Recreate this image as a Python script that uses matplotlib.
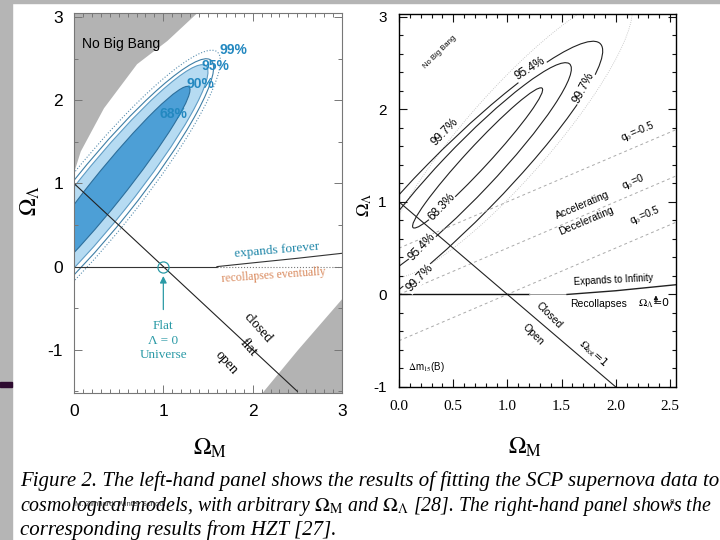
import matplotlib
matplotlib.use("Agg")
import matplotlib.pyplot as plt
from matplotlib.patches import Ellipse, Rectangle
from matplotlib.ticker import MultipleLocator, FormatStrFormatter

plt.rcParams['axes.unicode_minus'] = False
plt.rcParams['mathtext.fontset'] = 'stix'

######################################################################
# Datos
######################################################################
# panel izquierdo (SCP)
nbb_x = [0.0, 0.07, 0.33, 0.70, 1.04, 1.37]          # borde "No Big Bang"
nbb_y = [1.15, 1.39, 1.91, 2.44, 2.72, 3.05]
rc_x  = [2.10, 2.50, 3.00]                            # zona gris abajo a la derecha
rc_y  = [-1.52, -1.00, -0.38]
exp_x = [1.6, 2.0, 2.5, 3.0]                          # expande / recolapsa
exp_y = [0.0, 0.045, 0.10, 0.16]
flatL_x = [0.0, 2.5]
flatL_y = [1.0, -1.5]

L_lab = ['68%', '90%', '95%', '99%']
L_cx  = [0.36, 0.32, 0.31, 0.29]
L_cy  = [0.92, 0.87, 0.85, 0.83]
L_a   = [1.55, 1.93, 2.04, 2.19]
L_b   = [0.19, 0.31, 0.36, 0.41]
L_ang = 53.3
L_tx  = [1.11, 1.41, 1.58, 1.78]
L_ty  = [1.83, 2.20, 2.41, 2.60]

# panel derecho (HZT)
R_lab = ['68.3%', '95.4%', '99.7%']
R_cx  = [0.725, 0.62, 0.55]
R_cy  = [1.475, 1.32, 1.17]
R_a   = [0.96, 1.51, 2.02]
R_b   = [0.11, 0.25, 0.37]
R_ang = [51.8, 51.0, 50.0]
dot_e = (1.0, 1.7, 1.86, 0.42, 53.7)                  # contorno punteado exterior

q0_lab = ['-0.5', '0', '0.5']
q0_x   = [0.0, 2.555]
q0_y0  = [0.5, 0.0, -0.5]
q0_y1  = [1.78, 1.28, 0.78]
flatR_x = [0.0, 2.0]
flatR_y = [1.0, -1.0]
expR_x = [1.55, 2.0, 2.555]
expR_y = [0.0, 0.04, 0.105]

caption = ["Figure 2. The left-hand panel shows the results of fitting the SCP supernova data to",
           r"cosmological models, with arbitrary $\Omega_{\rm M}$ and $\Omega_{\Lambda}$ [28]. The right-hand panel shows the",
           "corresponding results from HZT [27]."]
cap_y  = [481, 506, 530]
cap_fs = [15, 14.3, 15]

######################################################################
fig = plt.figure(figsize=(7.2, 5.4), dpi=100)

# decoracion de la diapositiva
fig.patches.append(Rectangle((0, 0), 12/720, 1, transform=fig.transFigure, color='#b5b5b5', zorder=0))
fig.patches.append(Rectangle((0, 1-3/540), 1, 3/540, transform=fig.transFigure, color='#b5b5b5', zorder=0))
fig.patches.append(Rectangle((0, 1-387/540), 12/720, 5/540, transform=fig.transFigure, color='#2e0b30', zorder=1))

sans  = 'Liberation Sans'
serif = 'Liberation Serif'

#################
# Panel izquierdo
#################
ax = fig.add_axes([74/720, 1-393/540, 268/720, 380/540])
ax.set_xlim(0, 3)
ax.set_ylim(-1.52, 3.05)

ax.fill_between(nbb_x, nbb_y, 3.05, color='#b3b3b3', lw=0)
ax.fill_between(rc_x, -1.52, rc_y, color='#b3b3b3', lw=0)

fills = ['#4d9fd6', '#b6dbf2', 'none', 'none']
edges = ['#2d6f9c', '#5f9cc4', '#3f7fa6', '#5a8fb0']
styles = ['-', '-', '-', ':']
for i in [1, 0, 2, 3]:
    ax.add_patch(Ellipse((L_cx[i], L_cy[i]), 2*L_a[i], 2*L_b[i], angle=L_ang,
                         facecolor=fills[i], edgecolor=edges[i], lw=0.8, ls=styles[i]))
for i in range(4):
    ax.text(L_tx[i], L_ty[i], L_lab[i], color='#2388c0', fontsize=10, fontweight='bold',
            family=sans, ha='center', va='center')

ax.plot(flatL_x, flatL_y, color='#222222', lw=0.8)
ax.plot([0, 1.6], [0, 0], color='#333333', lw=0.8)
ax.plot([1.6, 3.0], [0, 0], color='#777777', lw=0.8, ls=':')
ax.plot(exp_x, exp_y, color='#333333', lw=0.8)
ax.plot([1.0], [0.0], marker='o', ms=8, mfc='none', mec='#2b9aa6', mew=0.9)
ax.annotate('', xy=(1.0, -0.08), xytext=(1.0, -0.55),
            arrowprops=dict(arrowstyle='-|>', color='#2b9aa6', lw=0.9, mutation_scale=10))

ax.text(0.09, 2.68, 'No Big Bang', family=sans, fontsize=10, ha='left', va='center')
ax.text(2.27, 0.20, 'expands forever', family=serif, fontsize=9.5, color='#1f86a8',
        rotation=5, ha='center', va='center')
ax.text(2.23, -0.10, 'recollapses eventually', family=serif, fontsize=8.5, color='#d98a5e',
        rotation=4, ha='center', va='center')
ax.text(1.0, -0.89, 'Flat\n\u039b = 0\nUniverse', family=serif, fontsize=9.5, color='#2b9aa6',
        ha='center', va='center', linespacing=1.25)
ax.text(2.06, -0.73, 'closed', family=serif, fontsize=10, rotation=-48, ha='center', va='center')
ax.text(1.95, -0.97, 'flat', family=serif, fontsize=10, rotation=-48, ha='center', va='center')
ax.text(1.71, -1.15, 'open', family=serif, fontsize=10, rotation=-48, ha='center', va='center')

ax.xaxis.set_major_locator(MultipleLocator(1))
ax.xaxis.set_minor_locator(MultipleLocator(0.1))
ax.yaxis.set_major_locator(MultipleLocator(1))
ax.yaxis.set_minor_locator(MultipleLocator(0.5))
ax.tick_params(which='both', direction='in', top=True, right=True, color='#777777', width=0.7)
ax.tick_params(which='major', length=6, labelsize=12.5, pad=8)
ax.tick_params(which='minor', length=3)
for s in ax.spines.values():
    s.set_color('#777777')
    s.set_linewidth(0.8)
for lab in ax.get_xticklabels() + ax.get_yticklabels():
    lab.set_family(sans)

fig.text(30/720, 1-200/540, r'$\Omega_{\Lambda}$', fontsize=17, rotation=90, ha='center', va='center')
fig.text(210/720, 1-448/540, r'$\Omega_{\rm M}$', fontsize=17, ha='center', va='center')

#################
# Panel derecho
#################
bx = fig.add_axes([399/720, 1-387/540, 277/720, 373/540])
bx.set_xlim(0, 2.555)
bx.set_ylim(-1, 3.03)

bx.add_patch(Ellipse((dot_e[0], dot_e[1]), 2*dot_e[2], 2*dot_e[3], angle=dot_e[4],
                     facecolor='none', edgecolor='#bbbbbb', lw=0.6, ls=':'))
for i in range(3):
    bx.add_patch(Ellipse((R_cx[i], R_cy[i]), 2*R_a[i], 2*R_b[i], angle=R_ang[i],
                         facecolor='none', edgecolor='#222222', lw=0.8))

for i in range(3):
    bx.plot(q0_x, [q0_y0[i], q0_y1[i]], color='#aaaaaa', lw=0.7, ls=(0, (3, 3)))

bx.plot(flatR_x, flatR_y, color='#222222', lw=0.8)
bx.plot([0, 1.2], [0, 0], color='#111111', lw=1.0)
bx.plot([1.2, 1.55], [0, 0], color='#999999', lw=0.7)
bx.plot(expR_x, expR_y, color='#222222', lw=1.0)

lab_kw = dict(family=sans, fontsize=8.5, ha='center', va='center',
              bbox=dict(facecolor='white', edgecolor='none', pad=0.5))
bx.text(1.21, 2.44, '95.4%', rotation=32, **lab_kw)
bx.text(1.70, 2.23, '99.7%', rotation=62, **lab_kw)
bx.text(0.42, 1.76, '99.7%', rotation=46, **lab_kw)
bx.text(0.39, 0.94, '68.3%', rotation=46, **lab_kw)
bx.text(0.21, 0.51, '95.4%', rotation=46, **lab_kw)
bx.text(0.19, 0.18, '99.7%', rotation=46, **lab_kw)

bx.text(0.38, 2.62, 'No Big Bang', family=sans, fontsize=5.5, rotation=45, ha='center', va='center')
bx.text(1.69, 0.97, 'Accelerating', family=sans, fontsize=7.5, rotation=23, ha='center', va='center')
bx.text(1.73, 0.79, 'Decelerating', family=sans, fontsize=7.5, rotation=23, ha='center', va='center')
for i, yy in enumerate([1.76, 1.22, 0.86]):
    xx = [2.20, 2.16, 2.27][i]
    bx.text(xx, yy, r'q$_0$=' + q0_lab[i], family=sans, fontsize=7.5, rotation=23,
            ha='center', va='center')
bx.text(1.98, 0.16, 'Expands to Infinity', family=sans, fontsize=7, rotation=3, ha='center', va='center')
bx.text(1.84, -0.10, 'Recollapses', family=sans, fontsize=7.5, ha='center', va='center')
bx.text(2.35, -0.10, r'$\Omega_{\Lambda}$=0', fontsize=8, ha='center', va='center')
bx.annotate('', xy=(2.37, 0.02), xytext=(2.37, -0.12),
            arrowprops=dict(arrowstyle='-|>', color='#111111', lw=0.7, mutation_scale=6))
bx.text(1.38, -0.23, 'Closed', family=sans, fontsize=7.5, rotation=-45, ha='center', va='center')
bx.text(1.24, -0.43, 'Open', family=sans, fontsize=7.5, rotation=-45, ha='center', va='center')
bx.text(1.79, -0.64, r'$\Omega_{\rm tot}$=1', fontsize=8, rotation=-42, ha='center', va='center')
bx.text(0.25, -0.78, r'$\Delta$m$_{15}$(B)', family=sans, fontsize=7, ha='center', va='center')

bx.xaxis.set_major_locator(MultipleLocator(0.5))
bx.xaxis.set_minor_locator(MultipleLocator(0.1))
bx.xaxis.set_major_formatter(FormatStrFormatter('%.1f'))
bx.yaxis.set_major_locator(MultipleLocator(1))
bx.yaxis.set_minor_locator(MultipleLocator(0.2))
bx.tick_params(which='both', direction='in', top=True, right=True, color='#111111', width=0.8)
bx.tick_params(which='major', length=6, labelsize=11, pad=9)
bx.tick_params(which='minor', length=3)
for s in bx.spines.values():
    s.set_linewidth(1.0)
for lab in bx.get_xticklabels():
    lab.set_family(serif)
for lab in bx.get_yticklabels():
    lab.set_family(sans)

fig.text(365/720, 1-205/540, r'$\Omega_{\Lambda}$', fontsize=13, rotation=90, ha='center', va='center')
fig.text(525/720, 1-447/540, r'$\Omega_{\rm M}$', fontsize=17, ha='center', va='center')

#################
# Leyenda de la figura
#################
for k, line in enumerate(caption):
    fig.text(20/720, 1-cap_y[k]/540, line, family=serif, style='italic',
             fontsize=cap_fs[k], ha='left', va='center')
fig.text(75/720, 1-505/540, 'M. Zimbardi Winter School', family=sans, fontsize=5.5,
         color='#333333', ha='left', va='center')
fig.text(672/720, 1-502/540, '8', family=sans, fontsize=6, color='#333333', ha='center', va='center')

fig.savefig('out.png', dpi=100)
